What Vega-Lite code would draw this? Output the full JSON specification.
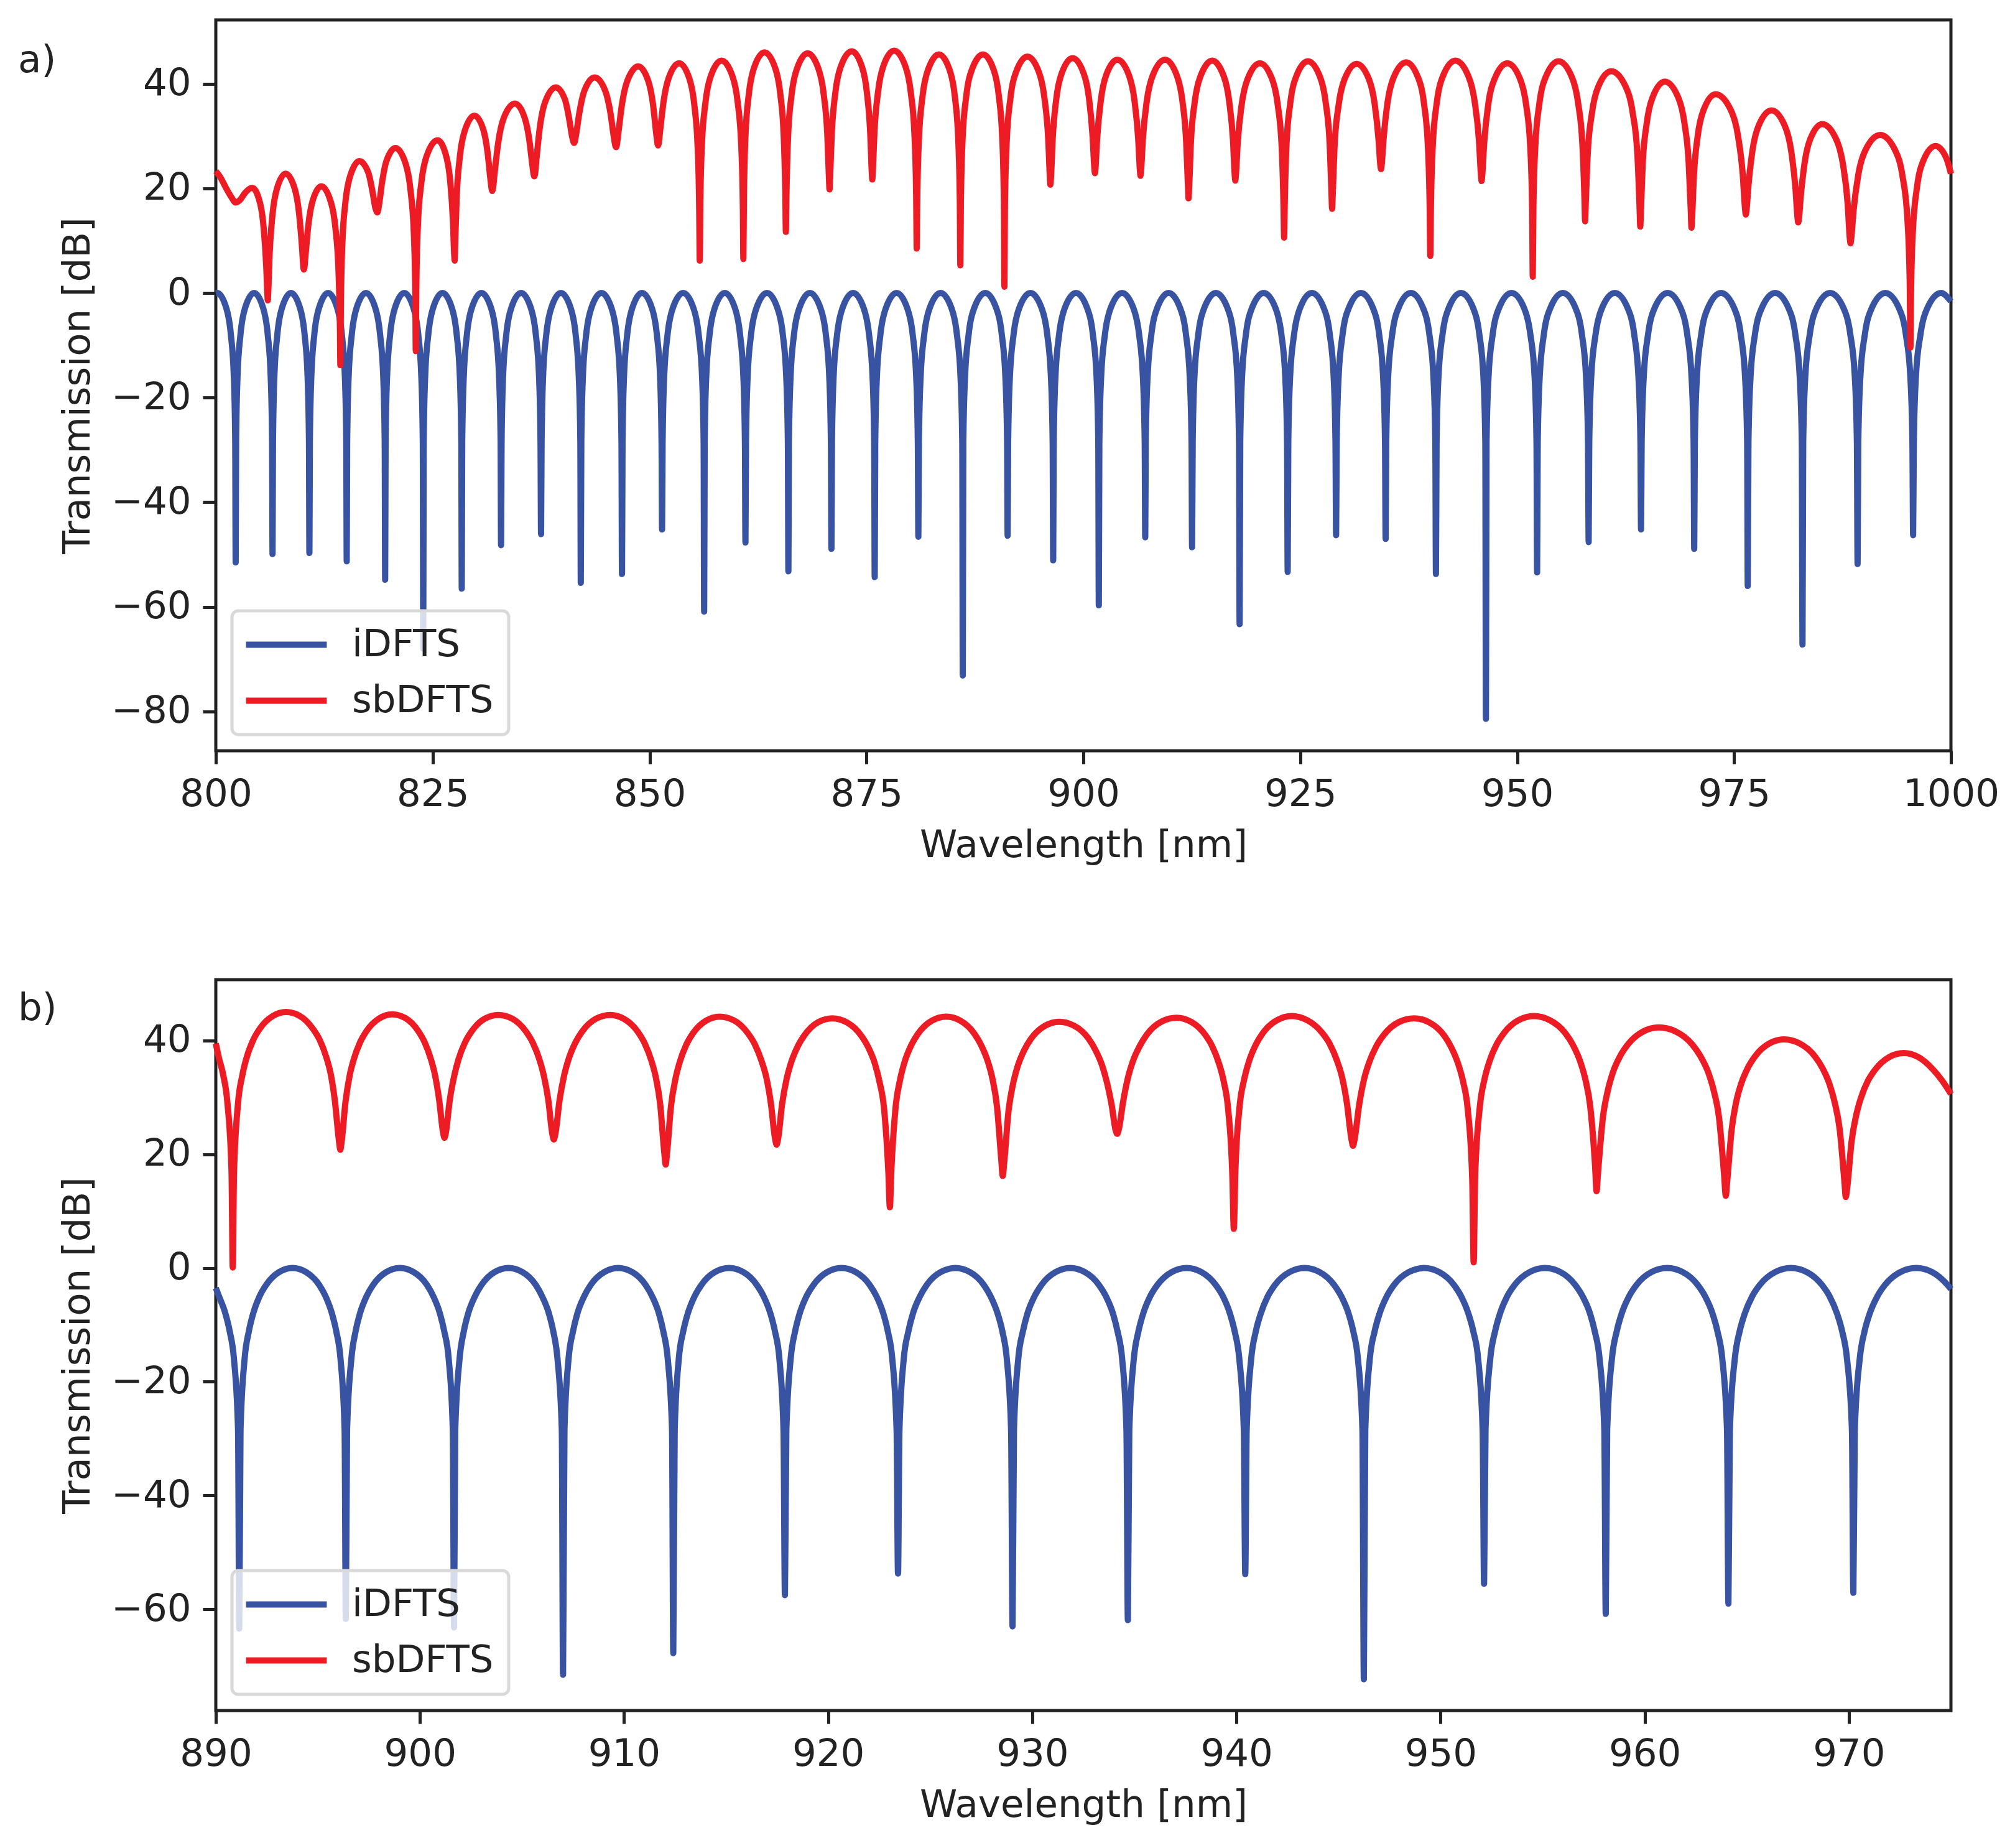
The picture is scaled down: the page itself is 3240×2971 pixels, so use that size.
{
  "$schema": "https://vega.github.io/schema/vega-lite/v6.json",
  "background": "white",
  "padding": {"left": 26, "top": 29, "right": 20, "bottom": 30},
  "datasets": {
    "ai": [
      {"x":800,"y":-0.03},{"x":800.17,"y":0},{"x":801.23,"y":-3},{"x":801.74,"y":-8},{"x":802.08,"y":-16},{"x":802.24,"y":-28.5},{"x":802.29,"y":-51.5},
      {"x":802.34,"y":-28.5},{"x":802.5,"y":-16},{"x":802.84,"y":-8},{"x":803.35,"y":-3},{"x":804.42,"y":0},{"x":805.48,"y":-3},{"x":805.99,"y":-8},{"x":806.33,"y":-16},{"x":806.49,"y":-28.5},{"x":806.54,"y":-49.9},
      {"x":806.59,"y":-28.5},{"x":806.75,"y":-16},{"x":807.09,"y":-8},{"x":807.6,"y":-3},{"x":808.67,"y":0},{"x":809.73,"y":-3},{"x":810.24,"y":-8},{"x":810.58,"y":-16},{"x":810.74,"y":-28.5},{"x":810.79,"y":-49.7},
      {"x":810.84,"y":-28.5},{"x":811.01,"y":-16},{"x":811.35,"y":-8},{"x":811.87,"y":-3},{"x":812.94,"y":0},{"x":814.02,"y":-3},{"x":814.53,"y":-8},{"x":814.88,"y":-16},{"x":815.04,"y":-28.5},{"x":815.09,"y":-51.3},
      {"x":815.14,"y":-28.5},{"x":815.31,"y":-16},{"x":815.67,"y":-8},{"x":816.2,"y":-3},{"x":817.31,"y":0},{"x":818.41,"y":-3},{"x":818.94,"y":-8},{"x":819.3,"y":-16},{"x":819.47,"y":-28.5},{"x":819.52,"y":-54.8},
      {"x":819.57,"y":-28.5},{"x":819.74,"y":-16},{"x":820.09,"y":-8},{"x":820.62,"y":-3},{"x":821.72,"y":0},{"x":822.81,"y":-3},{"x":823.34,"y":-8},{"x":823.69,"y":-16},{"x":823.86,"y":-28.5},{"x":823.91,"y":-68},
      {"x":823.96,"y":-28.5},{"x":824.13,"y":-16},{"x":824.49,"y":-8},{"x":825.02,"y":-3},{"x":826.13,"y":0},{"x":827.24,"y":-3},{"x":827.77,"y":-8},{"x":828.13,"y":-16},{"x":828.3,"y":-28.5},{"x":828.35,"y":-56.5},
      {"x":828.4,"y":-28.5},{"x":828.58,"y":-16},{"x":828.94,"y":-8},{"x":829.48,"y":-3},{"x":830.62,"y":0},{"x":831.75,"y":-3},{"x":832.29,"y":-8},{"x":832.65,"y":-16},{"x":832.83,"y":-28.5},{"x":832.88,"y":-48.2},
      {"x":832.94,"y":-28.5},{"x":833.11,"y":-16},{"x":833.48,"y":-8},{"x":834.03,"y":-3},{"x":835.19,"y":0},{"x":836.34,"y":-3},{"x":836.89,"y":-8},{"x":837.26,"y":-16},{"x":837.43,"y":-28.5},{"x":837.49,"y":-46.1},
      {"x":837.55,"y":-28.5},{"x":837.72,"y":-16},{"x":838.09,"y":-8},{"x":838.64,"y":-3},{"x":839.78,"y":0},{"x":840.93,"y":-3},{"x":841.48,"y":-8},{"x":841.84,"y":-16},{"x":842.02,"y":-28.5},{"x":842.07,"y":-55.4},
      {"x":842.13,"y":-28.5},{"x":842.31,"y":-16},{"x":842.69,"y":-8},{"x":843.26,"y":-3},{"x":844.45,"y":0},{"x":845.63,"y":-3},{"x":846.2,"y":-8},{"x":846.58,"y":-16},{"x":846.76,"y":-28.5},{"x":846.82,"y":-53.7},
      {"x":846.88,"y":-28.5},{"x":847.05,"y":-16},{"x":847.42,"y":-8},{"x":847.98,"y":-3},{"x":849.13,"y":0},{"x":850.29,"y":-3},{"x":850.84,"y":-8},{"x":851.21,"y":-16},{"x":851.38,"y":-28.5},{"x":851.44,"y":-45.2},
      {"x":851.5,"y":-28.5},{"x":851.68,"y":-16},{"x":852.07,"y":-8},{"x":852.65,"y":-3},{"x":853.87,"y":0},{"x":855.08,"y":-3},{"x":855.66,"y":-8},{"x":856.05,"y":-16},{"x":856.23,"y":-28.5},{"x":856.29,"y":-60.9},
      {"x":856.35,"y":-28.5},{"x":856.53,"y":-16},{"x":856.91,"y":-8},{"x":857.48,"y":-3},{"x":858.67,"y":0},{"x":859.86,"y":-3},{"x":860.43,"y":-8},{"x":860.81,"y":-16},{"x":860.99,"y":-28.5},{"x":861.05,"y":-47.7},
      {"x":861.11,"y":-28.5},{"x":861.3,"y":-16},{"x":861.69,"y":-8},{"x":862.29,"y":-3},{"x":863.53,"y":0},{"x":864.76,"y":-3},{"x":865.36,"y":-8},{"x":865.75,"y":-16},{"x":865.94,"y":-28.5},{"x":866,"y":-53.2},
      {"x":866.06,"y":-28.5},{"x":866.25,"y":-16},{"x":866.64,"y":-8},{"x":867.24,"y":-3},{"x":868.48,"y":0},{"x":869.72,"y":-3},{"x":870.32,"y":-8},{"x":870.71,"y":-16},{"x":870.9,"y":-28.5},{"x":870.96,"y":-48.9},
      {"x":871.02,"y":-28.5},{"x":871.21,"y":-16},{"x":871.61,"y":-8},{"x":872.21,"y":-3},{"x":873.46,"y":0},{"x":874.7,"y":-3},{"x":875.3,"y":-8},{"x":875.7,"y":-16},{"x":875.89,"y":-28.5},{"x":875.95,"y":-54.3},
      {"x":876.01,"y":-28.5},{"x":876.2,"y":-16},{"x":876.6,"y":-8},{"x":877.21,"y":-3},{"x":878.47,"y":0},{"x":879.72,"y":-3},{"x":880.33,"y":-8},{"x":880.73,"y":-16},{"x":880.92,"y":-28.5},{"x":880.98,"y":-46.6},
      {"x":881.04,"y":-28.5},{"x":881.24,"y":-16},{"x":881.65,"y":-8},{"x":882.26,"y":-3},{"x":883.54,"y":0},{"x":884.82,"y":-3},{"x":885.43,"y":-8},{"x":885.84,"y":-16},{"x":886.04,"y":-28.5},{"x":886.1,"y":-73.1},
      {"x":886.16,"y":-28.5},{"x":886.36,"y":-16},{"x":886.77,"y":-8},{"x":887.39,"y":-3},{"x":888.69,"y":0},{"x":889.98,"y":-3},{"x":890.6,"y":-8},{"x":891.01,"y":-16},{"x":891.21,"y":-28.5},{"x":891.27,"y":-46.4},
      {"x":891.33,"y":-28.5},{"x":891.53,"y":-16},{"x":891.95,"y":-8},{"x":892.58,"y":-3},{"x":893.9,"y":0},{"x":895.21,"y":-3},{"x":895.84,"y":-8},{"x":896.26,"y":-16},{"x":896.46,"y":-28.5},{"x":896.52,"y":-51.1},
      {"x":896.58,"y":-28.5},{"x":896.78,"y":-16},{"x":897.2,"y":-8},{"x":897.83,"y":-3},{"x":899.15,"y":0},{"x":900.46,"y":-3},{"x":901.1,"y":-8},{"x":901.52,"y":-16},{"x":901.72,"y":-28.5},{"x":901.78,"y":-59.7},
      {"x":901.84,"y":-28.5},{"x":902.05,"y":-16},{"x":902.48,"y":-8},{"x":903.12,"y":-3},{"x":904.46,"y":0},{"x":905.79,"y":-3},{"x":906.43,"y":-8},{"x":906.86,"y":-16},{"x":907.07,"y":-28.5},{"x":907.13,"y":-46.7},
      {"x":907.19,"y":-28.5},{"x":907.4,"y":-16},{"x":907.83,"y":-8},{"x":908.48,"y":-3},{"x":909.83,"y":0},{"x":911.18,"y":-3},{"x":911.83,"y":-8},{"x":912.26,"y":-16},{"x":912.47,"y":-28.5},{"x":912.53,"y":-48.6},
      {"x":912.6,"y":-28.5},{"x":912.8,"y":-16},{"x":913.24,"y":-8},{"x":913.9,"y":-3},{"x":915.27,"y":0},{"x":916.64,"y":-3},{"x":917.3,"y":-8},{"x":917.74,"y":-16},{"x":917.94,"y":-28.5},{"x":918.01,"y":-63.3},
      {"x":918.08,"y":-28.5},{"x":918.29,"y":-16},{"x":918.73,"y":-8},{"x":919.4,"y":-3},{"x":920.78,"y":0},{"x":922.17,"y":-3},{"x":922.83,"y":-8},{"x":923.27,"y":-16},{"x":923.48,"y":-28.5},{"x":923.55,"y":-53.3},
      {"x":923.62,"y":-28.5},{"x":923.83,"y":-16},{"x":924.28,"y":-8},{"x":924.95,"y":-3},{"x":926.34,"y":0},{"x":927.74,"y":-3},{"x":928.41,"y":-8},{"x":928.85,"y":-16},{"x":929.06,"y":-28.5},{"x":929.13,"y":-46.3},
      {"x":929.2,"y":-28.5},{"x":929.42,"y":-16},{"x":929.87,"y":-8},{"x":930.56,"y":-3},{"x":931.99,"y":0},{"x":933.41,"y":-3},{"x":934.1,"y":-8},{"x":934.55,"y":-16},{"x":934.77,"y":-28.5},{"x":934.84,"y":-47},
      {"x":934.91,"y":-28.5},{"x":935.13,"y":-16},{"x":935.59,"y":-8},{"x":936.29,"y":-3},{"x":937.74,"y":0},{"x":939.19,"y":-3},{"x":939.89,"y":-8},{"x":940.35,"y":-16},{"x":940.57,"y":-28.5},{"x":940.64,"y":-53.7},
      {"x":940.71,"y":-28.5},{"x":940.93,"y":-16},{"x":941.39,"y":-8},{"x":942.08,"y":-3},{"x":943.52,"y":0},{"x":944.96,"y":-3},{"x":945.65,"y":-8},{"x":946.11,"y":-16},{"x":946.33,"y":-28.5},{"x":946.4,"y":-81.4},
      {"x":946.47,"y":-28.5},{"x":946.7,"y":-16},{"x":947.17,"y":-8},{"x":947.88,"y":-3},{"x":949.35,"y":0},{"x":950.83,"y":-3},{"x":951.53,"y":-8},{"x":952.01,"y":-16},{"x":952.23,"y":-28.5},{"x":952.3,"y":-53.4},
      {"x":952.37,"y":-28.5},{"x":952.6,"y":-16},{"x":953.07,"y":-8},{"x":953.79,"y":-3},{"x":955.27,"y":0},{"x":956.76,"y":-3},{"x":957.47,"y":-8},{"x":957.94,"y":-16},{"x":958.17,"y":-28.5},{"x":958.24,"y":-47.6},
      {"x":958.31,"y":-28.5},{"x":958.54,"y":-16},{"x":959.03,"y":-8},{"x":959.75,"y":-3},{"x":961.26,"y":0},{"x":962.77,"y":-3},{"x":963.5,"y":-8},{"x":963.98,"y":-16},{"x":964.21,"y":-28.5},{"x":964.28,"y":-45.2},
      {"x":964.35,"y":-28.5},{"x":964.59,"y":-16},{"x":965.08,"y":-8},{"x":965.81,"y":-3},{"x":967.35,"y":0},{"x":968.88,"y":-3},{"x":969.61,"y":-8},{"x":970.1,"y":-16},{"x":970.34,"y":-28.5},{"x":970.41,"y":-48.9},
      {"x":970.48,"y":-28.5},{"x":970.72,"y":-16},{"x":971.21,"y":-8},{"x":971.95,"y":-3},{"x":973.5,"y":0},{"x":975.04,"y":-3},{"x":975.78,"y":-8},{"x":976.27,"y":-16},{"x":976.51,"y":-28.5},{"x":976.58,"y":-56},
      {"x":976.66,"y":-28.5},{"x":976.9,"y":-16},{"x":977.4,"y":-8},{"x":978.16,"y":-3},{"x":979.74,"y":0},{"x":981.31,"y":-3},{"x":982.07,"y":-8},{"x":982.57,"y":-16},{"x":982.81,"y":-28.5},{"x":982.89,"y":-67.2},
      {"x":982.97,"y":-28.5},{"x":983.21,"y":-16},{"x":983.72,"y":-8},{"x":984.48,"y":-3},{"x":986.07,"y":0},{"x":987.65,"y":-3},{"x":988.41,"y":-8},{"x":988.92,"y":-16},{"x":989.16,"y":-28.5},{"x":989.24,"y":-51.8},
      {"x":989.32,"y":-28.5},{"x":989.56,"y":-16},{"x":990.07,"y":-8},{"x":990.84,"y":-3},{"x":992.44,"y":0},{"x":994.04,"y":-3},{"x":994.81,"y":-8},{"x":995.32,"y":-16},{"x":995.56,"y":-28.5},{"x":995.64,"y":-46.3},
      {"x":995.72,"y":-28.5},{"x":995.96,"y":-16},{"x":996.48,"y":-8},{"x":997.25,"y":-3},{"x":998.86,"y":0},{"x":1000,"y":-1.6}
    ],
    "as": [
      {"x":800,"y":23.3},{"x":800.5,"y":22.2},{"x":801.2,"y":20},{"x":801.8,"y":18.3},{"x":802.29,"y":17.3},{"x":802.8,"y":17.8},{"x":803.4,"y":19.2},{"x":804.2,"y":20.1},
      {"x":805.1,"y":17.2},{"x":805.52,"y":12.4},{"x":805.81,"y":5.2},{"x":805.95,"y":-0.4},{"x":805.99,"y":-1.4},
      {"x":806.04,"y":0},{"x":806.2,"y":7.3},{"x":806.53,"y":14.9},{"x":807.02,"y":19.8},{"x":808.05,"y":22.8},
      {"x":809.1,"y":19.9},{"x":809.6,"y":15.2},{"x":809.94,"y":8.7},{"x":810.1,"y":4.9},{"x":810.15,"y":4.5},
      {"x":810.2,"y":4.7},{"x":810.35,"y":7.4},{"x":810.67,"y":13},{"x":811.16,"y":17.6},{"x":812.16,"y":20.4},
      {"x":813.26,"y":17.4},{"x":813.79,"y":12.4},{"x":814.14,"y":4.4},{"x":814.31,"y":-7.1},{"x":814.36,"y":-13.8},
      {"x":814.41,"y":-3},{"x":814.58,"y":9.2},{"x":814.93,"y":17.2},{"x":815.46,"y":22.2},{"x":816.55,"y":25.2},
      {"x":817.58,"y":23},{"x":818.07,"y":19.3},{"x":818.4,"y":16.2},{"x":818.56,"y":15.5},{"x":818.61,"y":15.4},
      {"x":818.66,"y":15.5},{"x":818.82,"y":16.9},{"x":819.16,"y":21.1},{"x":819.66,"y":25.2},{"x":820.71,"y":27.7},
      {"x":821.88,"y":24.7},{"x":822.44,"y":19.7},{"x":822.82,"y":11.7},{"x":823,"y":-0.5},{"x":823.05,"y":-11.1},
      {"x":823.11,"y":1},{"x":823.3,"y":13.2},{"x":823.7,"y":21.2},{"x":824.31,"y":26.2},{"x":825.56,"y":29.2},
      {"x":826.55,"y":26.2},{"x":827.02,"y":21.3},{"x":827.33,"y":13.9},{"x":827.48,"y":7.3},{"x":827.53,"y":6.2},
      {"x":827.58,"y":8.8},{"x":827.76,"y":18.1},{"x":828.12,"y":25.9},{"x":828.67,"y":30.9},{"x":829.81,"y":33.9},
      {"x":830.84,"y":31.2},{"x":831.33,"y":26.8},{"x":831.66,"y":21.7},{"x":831.82,"y":19.7},{"x":831.87,"y":19.5},
      {"x":831.93,"y":19.8},{"x":832.13,"y":22.8},{"x":832.55,"y":28.7},{"x":833.18,"y":33.4},{"x":834.48,"y":36.2},
      {"x":835.6,"y":33.5},{"x":836.14,"y":29.2},{"x":836.5,"y":24.3},{"x":836.67,"y":22.4},{"x":836.72,"y":22.3},
      {"x":836.78,"y":22.6},{"x":836.97,"y":25.8},{"x":837.36,"y":31.8},{"x":837.96,"y":36.5},{"x":839.19,"y":39.3},
      {"x":840.24,"y":37},{"x":840.74,"y":33.2},{"x":841.08,"y":29.8},{"x":841.24,"y":28.8},{"x":841.29,"y":28.7},
      {"x":841.35,"y":28.8},{"x":841.53,"y":30.3},{"x":841.91,"y":34.5},{"x":842.48,"y":38.65},{"x":843.67,"y":41.2},
      {"x":844.9,"y":38.6},{"x":845.5,"y":34.3},{"x":845.89,"y":29.7},{"x":846.08,"y":28},{"x":846.14,"y":27.9},
      {"x":846.2,"y":28.1},{"x":846.4,"y":30.6},{"x":846.81,"y":36},{"x":847.42,"y":40.5},{"x":848.7,"y":43.3},
      {"x":849.84,"y":40.55},{"x":850.39,"y":36.1},{"x":850.75,"y":30.7},{"x":850.93,"y":28.4},{"x":850.98,"y":28.2},
      {"x":851.04,"y":28.5},{"x":851.22,"y":31.1},{"x":851.61,"y":36.6},{"x":852.2,"y":41.1},{"x":853.41,"y":43.9},
      {"x":854.6,"y":40.9},{"x":855.16,"y":35.9},{"x":855.54,"y":27.9},{"x":855.72,"y":15.9},{"x":855.78,"y":6.2},
      {"x":855.84,"y":16.4},{"x":856.03,"y":28.4},{"x":856.44,"y":36.4},{"x":857.04,"y":41.4},{"x":858.3,"y":44.4},
      {"x":859.56,"y":41.4},{"x":860.16,"y":36.4},{"x":860.56,"y":28.4},{"x":860.75,"y":16.4},{"x":860.81,"y":6.5},
      {"x":860.87,"y":18},{"x":861.05,"y":30},{"x":861.44,"y":38},{"x":862.03,"y":43},{"x":863.24,"y":46},
      {"x":864.48,"y":43},{"x":865.07,"y":38},{"x":865.46,"y":30},{"x":865.65,"y":18.5},{"x":865.71,"y":11.7},
      {"x":865.77,"y":18.3},{"x":865.96,"y":29.8},{"x":866.36,"y":37.8},{"x":866.97,"y":42.8},{"x":868.22,"y":45.8},
      {"x":869.48,"y":42.8},{"x":870.08,"y":37.85},{"x":870.49,"y":30.1},{"x":870.68,"y":21.7},{"x":870.74,"y":19.8},
      {"x":870.8,"y":21.9},{"x":871,"y":30.5},{"x":871.41,"y":38.25},{"x":872.02,"y":43.2},{"x":873.3,"y":46.2},
      {"x":874.49,"y":43.2},{"x":875.05,"y":38.3},{"x":875.43,"y":30.7},{"x":875.61,"y":23.2},{"x":875.67,"y":21.7},
      {"x":875.73,"y":23.3},{"x":875.92,"y":30.8},{"x":876.33,"y":38.4},{"x":876.93,"y":43.3},{"x":878.19,"y":46.3},
      {"x":879.49,"y":43.3},{"x":880.11,"y":38.3},{"x":880.53,"y":30.3},{"x":880.73,"y":18.3},{"x":880.79,"y":8.5},
      {"x":880.85,"y":17.6},{"x":881.05,"y":29.6},{"x":881.46,"y":37.6},{"x":882.08,"y":42.6},{"x":883.36,"y":45.6},
      {"x":884.59,"y":42.6},{"x":885.18,"y":37.6},{"x":885.57,"y":29.6},{"x":885.76,"y":17.4},{"x":885.82,"y":5.3},
      {"x":885.88,"y":17.4},{"x":886.08,"y":29.6},{"x":886.5,"y":37.6},{"x":887.13,"y":42.6},{"x":888.43,"y":45.6},
      {"x":889.67,"y":42.6},{"x":890.26,"y":37.6},{"x":890.65,"y":29.6},{"x":890.84,"y":17.4},{"x":890.9,"y":1.2},
      {"x":890.96,"y":17},{"x":891.17,"y":29.2},{"x":891.59,"y":37.2},{"x":892.23,"y":42.2},{"x":893.55,"y":45.2},
      {"x":894.88,"y":42.2},{"x":895.51,"y":37.3},{"x":895.94,"y":29.7},{"x":896.14,"y":22.2},{"x":896.2,"y":20.7},
      {"x":896.26,"y":21.9},{"x":896.46,"y":29.4},{"x":896.87,"y":37},{"x":897.48,"y":41.9},{"x":898.76,"y":44.9},
      {"x":900.05,"y":41.9},{"x":900.66,"y":37.1},{"x":901.07,"y":29.8},{"x":901.27,"y":23.8},{"x":901.33,"y":22.9},
      {"x":901.39,"y":23.7},{"x":901.59,"y":29.6},{"x":902.01,"y":36.8},{"x":902.63,"y":41.65},{"x":903.93,"y":44.6},
      {"x":905.26,"y":41.6},{"x":905.89,"y":36.8},{"x":906.32,"y":29.5},{"x":906.52,"y":23.4},{"x":906.58,"y":22.4},
      {"x":906.65,"y":23.4},{"x":906.86,"y":29.5},{"x":907.32,"y":36.8},{"x":908,"y":41.6},{"x":909.42,"y":44.6},
      {"x":910.77,"y":41.6},{"x":911.42,"y":36.65},{"x":911.85,"y":28.9},{"x":912.06,"y":20.3},{"x":912.12,"y":18.1},
      {"x":912.19,"y":20.1},{"x":912.39,"y":28.7},{"x":912.83,"y":36.45},{"x":913.49,"y":41.4},{"x":914.86,"y":44.4},
      {"x":916.19,"y":41.4},{"x":916.82,"y":36.5},{"x":917.25,"y":29.1},{"x":917.45,"y":22.5},{"x":917.51,"y":21.5},
      {"x":917.58,"y":22.5},{"x":917.79,"y":28.7},{"x":918.25,"y":36.05},{"x":918.93,"y":40.9},{"x":920.35,"y":43.9},
      {"x":921.75,"y":40.9},{"x":922.41,"y":35.9},{"x":922.86,"y":27.9},{"x":923.07,"y":16.6},{"x":923.14,"y":10.6},
      {"x":923.21,"y":17},{"x":923.41,"y":28.3},{"x":923.85,"y":36.3},{"x":924.51,"y":41.3},{"x":925.88,"y":44.3},
      {"x":927.28,"y":41.3},{"x":927.94,"y":36.3},{"x":928.39,"y":28.45},{"x":928.6,"y":19},{"x":928.67,"y":16.1},
      {"x":928.74,"y":18.8},{"x":928.95,"y":28},{"x":929.41,"y":35.8},{"x":930.09,"y":40.8},{"x":931.5,"y":43.8},
      {"x":932.91,"y":40.9},{"x":933.58,"y":36.1},{"x":934.03,"y":29.2},{"x":934.24,"y":24.3},{"x":934.31,"y":23.7},
      {"x":934.38,"y":24.4},{"x":934.6,"y":29.4},{"x":935.06,"y":36.4},{"x":935.76,"y":41.2},{"x":937.21,"y":44.1},
      {"x":938.6,"y":41.1},{"x":939.27,"y":36.1},{"x":939.71,"y":28.1},{"x":939.92,"y":16.1},{"x":939.99,"y":7.1},
      {"x":940.06,"y":16.4},{"x":940.28,"y":28.4},{"x":940.74,"y":36.4},{"x":941.43,"y":41.4},{"x":942.88,"y":44.4},
      {"x":944.39,"y":41.4},{"x":945.11,"y":36.5},{"x":945.6,"y":29.1},{"x":945.83,"y":22.5},{"x":945.9,"y":21.4},
      {"x":945.97,"y":22.4},{"x":946.2,"y":28.7},{"x":946.67,"y":36.05},{"x":947.39,"y":40.9},{"x":948.87,"y":43.9},
      {"x":950.34,"y":40.9},{"x":951.04,"y":35.9},{"x":951.51,"y":27.9},{"x":951.73,"y":15.9},{"x":951.8,"y":3.1},
      {"x":951.87,"y":16.3},{"x":952.1,"y":28.3},{"x":952.57,"y":36.3},{"x":953.29,"y":41.3},{"x":954.77,"y":44.3},
      {"x":956.3,"y":41.3},{"x":957.03,"y":36.3},{"x":957.52,"y":28.4},{"x":957.76,"y":17.9},{"x":957.83,"y":13.7},
      {"x":957.9,"y":16.8},{"x":958.13,"y":26.55},{"x":958.62,"y":34.4},{"x":959.34,"y":39.4},{"x":960.85,"y":42.4},
      {"x":962.52,"y":39.4},{"x":963.32,"y":34.4},{"x":963.86,"y":26.5},{"x":964.11,"y":16.4},{"x":964.19,"y":12.7},
      {"x":964.26,"y":15.4},{"x":964.47,"y":24.6},{"x":964.93,"y":32.4},{"x":965.61,"y":37.4},{"x":967.02,"y":40.4},
      {"x":968.56,"y":37.4},{"x":969.29,"y":32.4},{"x":969.78,"y":24.6},{"x":970.02,"y":15.4},{"x":970.09,"y":12.5},
      {"x":970.16,"y":14.3},{"x":970.37,"y":22.4},{"x":970.82,"y":30.1},{"x":971.49,"y":35},{"x":972.88,"y":38},
      {"x":974.62,"y":35},{"x":975.45,"y":30.1},{"x":976,"y":22.7},{"x":976.27,"y":16.1},{"x":976.35,"y":15},
      {"x":976.42,"y":15.6},{"x":976.65,"y":20.35},{"x":977.12,"y":27.2},{"x":977.84,"y":32},{"x":979.32,"y":34.9},
      {"x":980.85,"y":31.95},{"x":981.59,"y":27.1},{"x":982.08,"y":20},{"x":982.32,"y":14.3},{"x":982.39,"y":13.5},
      {"x":982.46,"y":13.9},{"x":982.67,"y":18.1},{"x":983.11,"y":24.6},{"x":983.78,"y":29.4},{"x":985.17,"y":32.3},
      {"x":986.8,"y":29.3},{"x":987.57,"y":24.4},{"x":988.1,"y":17},{"x":988.34,"y":10.5},{"x":988.42,"y":9.5},
      {"x":988.5,"y":10.3},{"x":988.76,"y":15.5},{"x":989.31,"y":22.5},{"x":990.14,"y":27.3},{"x":991.85,"y":30.2},
      {"x":993.59,"y":27.2},{"x":994.43,"y":22.2},{"x":994.98,"y":14.2},{"x":995.25,"y":2},{"x":995.33,"y":-10.4},
      {"x":995.4,"y":0.1},{"x":995.62,"y":12.1},{"x":996.08,"y":20.1},{"x":996.77,"y":25.1},{"x":998.21,"y":28.1},
      {"x":999,"y":27.2},{"x":999.6,"y":25.2},{"x":1000,"y":22.8}
    ],
    "bi": [
      {"x":890,"y":-3.5},{"x":890.16,"y":-5},{"x":890.47,"y":-8},{"x":890.68,"y":-11.1},{"x":890.89,"y":-16},{"x":891.09,"y":-28.5},{"x":891.15,"y":-63.4},
      {"x":891.21,"y":-28.5},{"x":891.41,"y":-16},{"x":891.62,"y":-11.1},{"x":891.83,"y":-8},{"x":892.14,"y":-5},{"x":892.46,"y":-3},{"x":893.11,"y":-0.69},{"x":893.76,"y":0},{"x":894.41,"y":-0.69},{"x":895.07,"y":-3},{"x":895.38,"y":-5},{"x":895.69,"y":-8},{"x":895.9,"y":-11.1},{"x":896.11,"y":-16},{"x":896.31,"y":-28.5},{"x":896.37,"y":-61.7},
      {"x":896.43,"y":-28.5},{"x":896.64,"y":-16},{"x":896.85,"y":-11.1},{"x":897.06,"y":-8},{"x":897.38,"y":-5},{"x":897.7,"y":-3},{"x":898.36,"y":-0.69},{"x":899.02,"y":0},{"x":899.68,"y":-0.69},{"x":900.35,"y":-3},{"x":900.66,"y":-5},{"x":900.98,"y":-8},{"x":901.19,"y":-11.1},{"x":901.41,"y":-16},{"x":901.61,"y":-28.5},{"x":901.67,"y":-63.2},
      {"x":901.73,"y":-28.5},{"x":901.94,"y":-16},{"x":902.15,"y":-11.1},{"x":902.36,"y":-8},{"x":902.69,"y":-5},{"x":903.01,"y":-3},{"x":903.67,"y":-0.69},{"x":904.34,"y":0},{"x":905.01,"y":-0.69},{"x":905.68,"y":-3},{"x":905.99,"y":-5},{"x":906.32,"y":-8},{"x":906.53,"y":-11.1},{"x":906.74,"y":-16},{"x":906.95,"y":-28.5},{"x":907.01,"y":-71.5},
      {"x":907.08,"y":-28.5},{"x":907.28,"y":-16},{"x":907.5,"y":-11.1},{"x":907.71,"y":-8},{"x":908.04,"y":-5},{"x":908.36,"y":-3},{"x":909.04,"y":-0.69},{"x":909.71,"y":0},{"x":910.39,"y":-0.69},{"x":911.06,"y":-3},{"x":911.38,"y":-5},{"x":911.71,"y":-8},{"x":911.92,"y":-11.1},{"x":912.14,"y":-16},{"x":912.35,"y":-28.5},{"x":912.41,"y":-67.7},
      {"x":912.48,"y":-28.5},{"x":912.68,"y":-16},{"x":912.9,"y":-11.1},{"x":913.12,"y":-8},{"x":913.45,"y":-5},{"x":913.78,"y":-3},{"x":914.46,"y":-0.69},{"x":915.15,"y":0},{"x":915.83,"y":-0.69},{"x":916.51,"y":-3},{"x":916.84,"y":-5},{"x":917.17,"y":-8},{"x":917.39,"y":-11.1},{"x":917.61,"y":-16},{"x":917.81,"y":-28.5},{"x":917.88,"y":-57.5},
      {"x":917.95,"y":-28.5},{"x":918.16,"y":-16},{"x":918.38,"y":-11.1},{"x":918.6,"y":-8},{"x":918.93,"y":-5},{"x":919.27,"y":-3},{"x":919.96,"y":-0.69},{"x":920.65,"y":0},{"x":921.34,"y":-0.69},{"x":922.04,"y":-3},{"x":922.37,"y":-5},{"x":922.7,"y":-8},{"x":922.92,"y":-11.1},{"x":923.14,"y":-16},{"x":923.35,"y":-28.5},{"x":923.42,"y":-53.7},
      {"x":923.49,"y":-28.5},{"x":923.7,"y":-16},{"x":923.93,"y":-11.1},{"x":924.15,"y":-8},{"x":924.49,"y":-5},{"x":924.82,"y":-3},{"x":925.52,"y":-0.69},{"x":926.23,"y":0},{"x":926.93,"y":-0.69},{"x":927.63,"y":-3},{"x":927.96,"y":-5},{"x":928.3,"y":-8},{"x":928.53,"y":-11.1},{"x":928.75,"y":-16},{"x":928.96,"y":-28.5},{"x":929.03,"y":-63},
      {"x":929.1,"y":-28.5},{"x":929.31,"y":-16},{"x":929.54,"y":-11.1},{"x":929.76,"y":-8},{"x":930.1,"y":-5},{"x":930.44,"y":-3},{"x":931.15,"y":-0.69},{"x":931.86,"y":0},{"x":932.56,"y":-0.69},{"x":933.27,"y":-3},{"x":933.61,"y":-5},{"x":933.95,"y":-8},{"x":934.17,"y":-11.1},{"x":934.4,"y":-16},{"x":934.61,"y":-28.5},{"x":934.68,"y":-61.9},
      {"x":934.75,"y":-28.5},{"x":934.97,"y":-16},{"x":935.2,"y":-11.1},{"x":935.43,"y":-8},{"x":935.77,"y":-5},{"x":936.12,"y":-3},{"x":936.84,"y":-0.69},{"x":937.56,"y":0},{"x":938.27,"y":-0.69},{"x":938.99,"y":-3},{"x":939.34,"y":-5},{"x":939.68,"y":-8},{"x":939.91,"y":-11.1},{"x":940.14,"y":-16},{"x":940.36,"y":-28.5},{"x":940.43,"y":-53.8},
      {"x":940.5,"y":-28.5},{"x":940.72,"y":-16},{"x":940.95,"y":-11.1},{"x":941.19,"y":-8},{"x":941.53,"y":-5},{"x":941.88,"y":-3},{"x":942.61,"y":-0.69},{"x":943.34,"y":0},{"x":944.06,"y":-0.69},{"x":944.79,"y":-3},{"x":945.14,"y":-5},{"x":945.49,"y":-8},{"x":945.72,"y":-11.1},{"x":945.95,"y":-16},{"x":946.17,"y":-28.5},{"x":946.24,"y":-72.3},
      {"x":946.31,"y":-28.5},{"x":946.53,"y":-16},{"x":946.77,"y":-11.1},{"x":947.01,"y":-8},{"x":947.36,"y":-5},{"x":947.71,"y":-3},{"x":948.45,"y":-0.69},{"x":949.19,"y":0},{"x":949.92,"y":-0.69},{"x":950.66,"y":-3},{"x":951.01,"y":-5},{"x":951.36,"y":-8},{"x":951.6,"y":-11.1},{"x":951.84,"y":-16},{"x":952.06,"y":-28.5},{"x":952.13,"y":-55.5},
      {"x":952.2,"y":-28.5},{"x":952.43,"y":-16},{"x":952.67,"y":-11.1},{"x":952.91,"y":-8},{"x":953.26,"y":-5},{"x":953.62,"y":-3},{"x":954.37,"y":-0.69},{"x":955.11,"y":0},{"x":955.86,"y":-0.69},{"x":956.6,"y":-3},{"x":956.96,"y":-5},{"x":957.32,"y":-8},{"x":957.55,"y":-11.1},{"x":957.79,"y":-16},{"x":958.02,"y":-28.5},{"x":958.09,"y":-60.8},
      {"x":958.16,"y":-28.5},{"x":958.39,"y":-16},{"x":958.63,"y":-11.1},{"x":958.87,"y":-8},{"x":959.23,"y":-5},{"x":959.59,"y":-3},{"x":960.34,"y":-0.69},{"x":961.1,"y":0},{"x":961.85,"y":-0.69},{"x":962.6,"y":-3},{"x":962.96,"y":-5},{"x":963.32,"y":-8},{"x":963.56,"y":-11.1},{"x":963.8,"y":-16},{"x":964.03,"y":-28.5},{"x":964.1,"y":-59},
      {"x":964.17,"y":-28.5},{"x":964.41,"y":-16},{"x":964.65,"y":-11.1},{"x":964.9,"y":-8},{"x":965.26,"y":-5},{"x":965.63,"y":-3},{"x":966.4,"y":-0.69},{"x":967.16,"y":0},{"x":967.93,"y":-0.69},{"x":968.69,"y":-3},{"x":969.06,"y":-5},{"x":969.42,"y":-8},{"x":969.67,"y":-11.1},{"x":969.91,"y":-16},{"x":970.15,"y":-28.5},{"x":970.22,"y":-57.1},
      {"x":970.29,"y":-28.5},{"x":970.53,"y":-16},{"x":970.77,"y":-11.1},{"x":971.02,"y":-8},{"x":971.39,"y":-5},{"x":971.76,"y":-3},{"x":972.53,"y":-0.69},{"x":973.3,"y":0},{"x":974.07,"y":-0.69},{"x":974.84,"y":-3},{"x":975,"y":-3.7}
    ],
    "bs": [
      {"x":890,"y":39.5},{"x":890.15,"y":37},{"x":890.36,"y":34},{"x":890.57,"y":29},{"x":890.77,"y":17},{"x":890.83,"y":0.1},
      {"x":890.89,"y":16.6},{"x":891.09,"y":29},{"x":891.3,"y":33.9},{"x":891.51,"y":37},{"x":891.82,"y":40},{"x":892.14,"y":42},{"x":892.79,"y":44.3},{"x":893.44,"y":45},
      {"x":894.1,"y":44.35},{"x":894.77,"y":42},{"x":895.09,"y":40.1},{"x":895.41,"y":37.1},{"x":895.62,"y":34.3},{"x":895.83,"y":29.5},{"x":896.04,"y":22.2},{"x":896.1,"y":20.8},
      {"x":896.16,"y":22.1},{"x":896.35,"y":29.1},{"x":896.56,"y":33.9},{"x":896.76,"y":36.7},{"x":897.07,"y":39.7},{"x":897.37,"y":41.6},{"x":898.01,"y":43.9},{"x":898.64,"y":44.6},
      {"x":899.28,"y":43.95},{"x":899.92,"y":41.65},{"x":900.23,"y":39.7},{"x":900.53,"y":36.8},{"x":900.74,"y":33.9},{"x":900.94,"y":29.6},{"x":901.14,"y":23.7},{"x":901.2,"y":22.9},
      {"x":901.26,"y":23.6},{"x":901.46,"y":29.5},{"x":901.68,"y":33.8},{"x":901.89,"y":36.7},{"x":902.2,"y":39.6},{"x":902.52,"y":41.55},{"x":903.18,"y":43.85},{"x":903.84,"y":44.5},
      {"x":904.52,"y":43.85},{"x":905.2,"y":41.55},{"x":905.53,"y":39.6},{"x":905.85,"y":36.7},{"x":906.07,"y":33.8},{"x":906.29,"y":29.5},{"x":906.49,"y":23.5},{"x":906.56,"y":22.6},
      {"x":906.63,"y":23.5},{"x":906.84,"y":29.5},{"x":907.06,"y":33.8},{"x":907.28,"y":36.7},{"x":907.61,"y":39.6},{"x":907.94,"y":41.55},{"x":908.63,"y":43.85},{"x":909.32,"y":44.5},
      {"x":910,"y":43.8},{"x":910.68,"y":41.5},{"x":911.01,"y":39.5},{"x":911.33,"y":36.55},{"x":911.55,"y":33.6},{"x":911.77,"y":28.8},{"x":911.97,"y":20.3},{"x":912.04,"y":18.2},
      {"x":912.1,"y":20},{"x":912.3,"y":28.5},{"x":912.52,"y":33.3},{"x":912.73,"y":36.25},{"x":913.04,"y":39.2},{"x":913.36,"y":41.2},{"x":914.02,"y":43.5},{"x":914.68,"y":44.2},
      {"x":915.38,"y":43.55},{"x":916.07,"y":41.25},{"x":916.41,"y":39.3},{"x":916.74,"y":36.35},{"x":916.97,"y":33.5},{"x":917.19,"y":29},{"x":917.4,"y":22.7},{"x":917.47,"y":21.7},
      {"x":917.54,"y":22.6},{"x":917.74,"y":28.8},{"x":917.96,"y":33.2},{"x":918.18,"y":36.1},{"x":918.51,"y":39},{"x":918.84,"y":40.95},{"x":919.52,"y":43.25},{"x":920.2,"y":43.9},
      {"x":920.91,"y":43.2},{"x":921.61,"y":40.9},{"x":921.95,"y":38.9},{"x":922.29,"y":35.9},{"x":922.51,"y":32.8},{"x":922.74,"y":27.9},{"x":922.95,"y":16.6},{"x":923.02,"y":10.7},
      {"x":923.09,"y":16.9},{"x":923.3,"y":28.2},{"x":923.52,"y":33.1},{"x":923.74,"y":36.2},{"x":924.07,"y":39.2},{"x":924.4,"y":41.2},{"x":925.08,"y":43.5},{"x":925.77,"y":44.2},
      {"x":926.47,"y":43.5},{"x":927.16,"y":41.2},{"x":927.49,"y":39.2},{"x":927.83,"y":36.2},{"x":928.05,"y":33.2},{"x":928.27,"y":28.35},{"x":928.48,"y":19},{"x":928.55,"y":16.2},
      {"x":928.62,"y":18.5},{"x":928.83,"y":27.5},{"x":929.05,"y":32.3},{"x":929.27,"y":35.35},{"x":929.6,"y":38.3},{"x":929.93,"y":40.3},{"x":930.62,"y":42.6},{"x":931.31,"y":43.3},
      {"x":932.02,"y":42.65},{"x":932.74,"y":40.4},{"x":933.08,"y":38.4},{"x":933.42,"y":35.6},{"x":933.65,"y":32.7},{"x":933.88,"y":28.8},{"x":934.09,"y":24.1},{"x":934.16,"y":23.6},
      {"x":934.23,"y":24.3},{"x":934.45,"y":29.3},{"x":934.68,"y":33.4},{"x":934.92,"y":36.3},{"x":935.27,"y":39.1},{"x":935.62,"y":41.1},{"x":936.34,"y":43.35},{"x":937.07,"y":44},
      {"x":937.77,"y":43.3},{"x":938.47,"y":41},{"x":938.81,"y":39},{"x":939.14,"y":36},{"x":939.37,"y":32.9},{"x":939.59,"y":28},{"x":939.8,"y":16},{"x":939.87,"y":6.9},
      {"x":939.94,"y":16.3},{"x":940.15,"y":28.3},{"x":940.38,"y":33.2},{"x":940.61,"y":36.3},{"x":940.95,"y":39.3},{"x":941.29,"y":41.3},{"x":942,"y":43.6},{"x":942.7,"y":44.3},
      {"x":943.45,"y":43.6},{"x":944.21,"y":41.3},{"x":944.57,"y":39.4},{"x":944.93,"y":36.4},{"x":945.17,"y":33.6},{"x":945.41,"y":29},{"x":945.64,"y":22.5},{"x":945.71,"y":21.5},
      {"x":945.78,"y":22.5},{"x":946.01,"y":28.7},{"x":946.25,"y":33.2},{"x":946.49,"y":36.05},{"x":946.85,"y":39},{"x":947.21,"y":40.95},{"x":947.96,"y":43.25},{"x":948.71,"y":43.9},
      {"x":949.44,"y":43.2},{"x":950.17,"y":40.9},{"x":950.51,"y":38.9},{"x":950.86,"y":35.9},{"x":951.1,"y":32.8},{"x":951.33,"y":27.9},{"x":951.55,"y":15.5},{"x":951.62,"y":1},
      {"x":951.69,"y":15.9},{"x":951.92,"y":28.3},{"x":952.15,"y":33.2},{"x":952.39,"y":36.3},{"x":952.74,"y":39.3},{"x":953.1,"y":41.3},{"x":953.83,"y":43.6},{"x":954.57,"y":44.3},
      {"x":955.34,"y":43.6},{"x":956.11,"y":41.3},{"x":956.47,"y":39.3},{"x":956.84,"y":36.3},{"x":957.09,"y":33.2},{"x":957.33,"y":28.4},{"x":957.57,"y":17.8},{"x":957.64,"y":13.5},
      {"x":957.71,"y":16.7},{"x":957.95,"y":26.45},{"x":958.19,"y":31.2},{"x":958.43,"y":34.3},{"x":958.8,"y":37.3},{"x":959.17,"y":39.3},{"x":959.93,"y":41.6},{"x":960.69,"y":42.3},
      {"x":961.51,"y":41.6},{"x":962.33,"y":39.3},{"x":962.72,"y":37.3},{"x":963.12,"y":34.3},{"x":963.38,"y":31.2},{"x":963.64,"y":26.4},{"x":963.89,"y":16.3},{"x":963.97,"y":12.7},
      {"x":964.04,"y":15.3},{"x":964.26,"y":24.4},{"x":964.48,"y":29.2},{"x":964.71,"y":32.25},{"x":965.05,"y":35.2},{"x":965.4,"y":37.2},{"x":966.11,"y":39.5},{"x":966.82,"y":40.2},
      {"x":967.58,"y":39.5},{"x":968.34,"y":37.2},{"x":968.7,"y":35.2},{"x":969.06,"y":32.25},{"x":969.3,"y":29.2},{"x":969.55,"y":24.4},{"x":969.78,"y":15.3},{"x":969.85,"y":12.5},
      {"x":969.92,"y":14.2},{"x":970.13,"y":22.2},{"x":970.36,"y":26.9},{"x":970.59,"y":29.9},{"x":970.93,"y":32.9},{"x":971.27,"y":34.8},{"x":971.98,"y":37.1},{"x":972.69,"y":37.8},
      {"x":973.4,"y":37.1},{"x":974.1,"y":35},{"x":974.6,"y":32.8},{"x":975,"y":30.6}
    ]
  },
  "vconcat": [
    {
      "title": {"text": "a)", "anchor": "start", "frame": "group", "dx": -318, "offset": -145, "baseline": "alphabetic"},
      "width": 2790,
      "height": 1175,
      "encoding": {
        "x": {"field": "x", "type": "quantitative", "title": "Wavelength [nm]",
          "scale": {"domain": [800, 1000], "nice": false, "zero": false},
          "axis": {"values": [800, 825, 850, 875, 900, 925, 950, 975, 1000], "format": "d"}},
        "y": {"field": "y", "type": "quantitative", "title": "Transmission [dB]",
          "scale": {"domain": [-87.5, 52.2], "nice": false, "zero": false},
          "axis": {"values": [-80, -60, -40, -20, 0, 20, 40]}}
      },
      "layer": [
        {"data": {"name": "ai"}, "mark": {"type": "line"},
          "encoding": {"color": {"datum": "iDFTS", "scale": {"domain": ["iDFTS", "sbDFTS"], "range": ["#3953a3", "#ed1c24"]}, "legend": {"title": null}}}},
        {"data": {"name": "as"}, "mark": {"type": "line"},
          "encoding": {"color": {"datum": "sbDFTS"}}}
      ]
    },
    {
      "title": {"text": "b)", "anchor": "start", "frame": "group", "dx": -318, "offset": -126, "baseline": "alphabetic"},
      "width": 2790,
      "height": 1175,
      "encoding": {
        "x": {"field": "x", "type": "quantitative", "title": "Wavelength [nm]",
          "scale": {"domain": [890, 975], "nice": false, "zero": false},
          "axis": {"values": [890, 900, 910, 920, 930, 940, 950, 960, 970], "format": "d"}},
        "y": {"field": "y", "type": "quantitative", "title": "Transmission [dB]",
          "scale": {"domain": [-77.8, 50.7], "nice": false, "zero": false},
          "axis": {"values": [-60, -40, -20, 0, 20, 40]}}
      },
      "layer": [
        {"data": {"name": "bi"}, "mark": {"type": "line"},
          "encoding": {"color": {"datum": "iDFTS", "scale": {"domain": ["iDFTS", "sbDFTS"], "range": ["#3953a3", "#ed1c24"]}, "legend": {"title": null}}}},
        {"data": {"name": "bs"}, "mark": {"type": "line"},
          "encoding": {"color": {"datum": "sbDFTS"}}}
      ]
    }
  ],
  "spacing": 180,
  "resolve": {"scale": {"color": "independent"}, "legend": {"color": "independent"}},
  "config": {
    "font": "DejaVu Sans",
    "view": {"stroke": "#222222", "strokeWidth": 5},
    "line": {"strokeWidth": 10, "strokeJoin": "round", "interpolate": "monotone", "clip": true},
    "axis": {
      "domain": false, "grid": false, "ticks": true, "tickSize": 21, "tickWidth": 5, "tickColor": "#222222",
      "labelFont": "DejaVu Sans", "labelFontSize": 61, "labelColor": "#222222", "labelPadding": 19,
      "labelFlush": false, "labelOverlap": false,
      "titleFont": "DejaVu Sans", "titleFontSize": 61, "titleFontWeight": "normal", "titleColor": "#222222", "titlePadding": 22
    },
    "legend": {
      "orient": "bottom-left", "offset": 26, "padding": 24, "rowPadding": 28,
      "labelFont": "DejaVu Sans", "labelFontSize": 61, "labelColor": "#222222", "labelLimit": 0, "labelOffset": 75,
      "symbolType": "M-4.06,0H4.06", "symbolSize": 1024, "symbolStrokeWidth": 10, "symbolOffset": 33,
      "fillColor": "rgba(255,255,255,0.8)", "strokeColor": "#d9d9d9", "strokeWidth": 5, "cornerRadius": 10
    },
    "title": {"font": "DejaVu Sans", "fontSize": 61, "fontWeight": "normal", "color": "#222222"}
  }
}
